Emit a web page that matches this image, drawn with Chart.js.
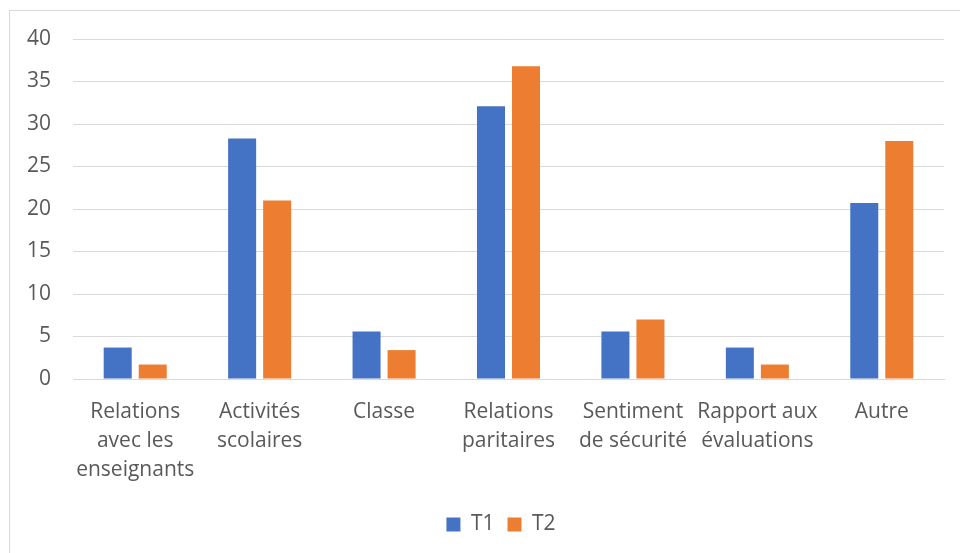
<!DOCTYPE html>
<html>
<head>
<meta charset="utf-8">
<script src="https://cdn.jsdelivr.net/npm/chart.js@4/dist/chart.umd.min.js"></script>
<style>
    html, body { margin: 0; padding: 0; background: #fff; overflow: hidden; }
    #wrap { position: relative; width: 960px; height: 553px; }
    #frame { position: absolute; left: 9px; top: 10px; width: 1000px; height: 600px; border: 1px solid #d9d9d9; }
    #chart { position: absolute; left: 0; top: 0; }
</style>
</head>
<body>
<div id="wrap">
    <div id="frame"></div>
    <canvas id="chart" width="960" height="553"></canvas>
</div>
<script>
// Categories (multi-line labels as in the original)
const categories = [
    ['Relations', 'avec les', 'enseignants'],
    ['Activités', 'scolaires'],
    ['Classe'],
    ['Relations', 'paritaires'],
    ['Sentiment', 'de sécurité'],
    ['Rapport aux', 'évaluations'],
    ['Autre']
];
const t1Values = [3.7, 28.3, 5.6, 32.1, 5.6, 3.7, 20.7];
const t2Values = [1.7, 21.0, 3.4, 36.8, 7.0, 1.7, 28.0];
const yTicks = [0, 5, 10, 15, 20, 25, 30, 35, 40];

const textColor = '#595959';
const gridColor = '#d9d9d9';
const fontFamily = '"Open Sans", sans-serif';

// legend sits a little right of the plot centre in the original
const shiftLegend = {
    id: 'shiftLegend',
    afterLayout(chart) {
        const lg = chart.legend;
        if (!lg) return;
        lg.left += 29;
        lg.right += 29;
    }
};

new Chart(document.getElementById('chart'), {
    type: 'bar',
    data: {
        labels: categories,
        datasets: [{
            label: 'T1',
            data: t1Values,
            backgroundColor: '#4472C4',
            barPercentage: 0.8,
            categoryPercentage: 0.563
        }, {
            label: 'T2',
            data: t2Values,
            backgroundColor: '#ED7D31',
            barPercentage: 0.8,
            categoryPercentage: 0.563
        }]
    },
    plugins: [shiftLegend],
    options: {
        responsive: false,
        animation: false,
        layout: {
            padding: { top: 39, right: 16, bottom: 8, left: 0 }
        },
        plugins: {
            legend: {
                position: 'bottom',
                labels: {
                    boxWidth: 14,
                    boxHeight: 14,
                    padding: 13,
                    color: textColor,
                    font: { family: fontFamily, size: 21 }
                }
            },
            tooltip: { enabled: false }
        },
        scales: {
            x: {
                grid: { display: false },
                border: { display: true, color: gridColor, width: 1 },
                ticks: {
                    color: textColor,
                    padding: 11,
                    maxRotation: 0,
                    autoSkip: false,
                    font: { family: fontFamily, size: 21, lineHeight: 1.38 }
                },
                afterFit: function(scale) { scale.height = 122; }
            },
            y: {
                min: 0,
                max: 40,
                afterBuildTicks: function(scale) {
                    scale.ticks = yTicks.map(v => ({ value: v }));
                },
                grid: { color: gridColor, lineWidth: 1, drawTicks: false },
                border: { display: false },
                ticks: {
                    color: textColor,
                    padding: 22,
                    font: { family: fontFamily, size: 21 }
                },
                afterFit: function(scale) { scale.width = 73; }
            }
        }
    }
});
</script>
</body>
</html>
